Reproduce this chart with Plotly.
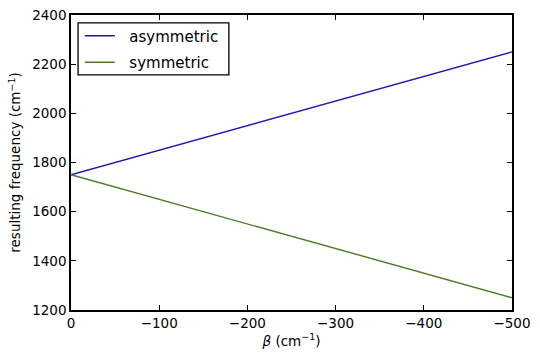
import plotly.graph_objects as go

beta = [0, -100, -200, -300, -400, -500]
asymmetric = [1750, 1850, 1950, 2050, 2150, 2250]
symmetric = [1750, 1650, 1550, 1450, 1350, 1250]
x_ticks = [0, -100, -200, -300, -400, -500]
x_ticklabels = ["0", "\u2212100", "\u2212200", "\u2212300", "\u2212400", "\u2212500"]
y_ticks = [1200, 1400, 1600, 1800, 2000, 2200, 2400]

fig = go.Figure()
fig.add_trace(go.Scatter(x=beta, y=asymmetric, mode="lines", name="\u00a0\u00a0asymmetric",
                         legendgroup="a",
                         line=dict(color="#1c1cb0", width=1.4)))
fig.add_trace(go.Scatter(x=beta, y=symmetric, mode="lines", name="\u00a0\u00a0symmetric",
                         legendgroup="b",
                         line=dict(color="#4a7a26", width=1.4)))

axis_common = dict(showline=True, linecolor="black", linewidth=1.5, mirror="ticks",
                   ticks="inside", ticklen=5, tickwidth=1, tickcolor="black",
                   showgrid=False, zeroline=False, automargin=False,
                   ticklabeloverflow="allow",
                   tickfont=dict(family="DejaVu Sans", size=13.5, color="black"))

fig.update_xaxes(range=[0, -500], tickvals=x_ticks, ticktext=x_ticklabels,
                 title=dict(text="<i>β</i> (cm<sup>−1</sup>)", standoff=4,
                            font=dict(family="DejaVu Sans", size=13.5, color="black")),
                 **axis_common)
fig.update_yaxes(range=[1200, 2400], tickvals=y_ticks,
                 title=dict(text="resulting frequency (cm<sup>−1</sup>)", standoff=8,
                            font=dict(family="DejaVu Sans", size=13.5, color="black")),
                 **axis_common)

# legend frame drawn as a paper-anchored box behind the legend entries
fig.add_shape(type="rect", xref="paper", yref="paper",
              x0=0.016, x1=0.358, y0=0.797, y1=0.973,
              line=dict(color="black", width=1.3), fillcolor="white", layer="above")

fig.update_layout(
    width=540, height=359,
    margin=dict(l=71, r=28, t=15, b=49),
    plot_bgcolor="white", paper_bgcolor="white",
    font=dict(family="DejaVu Sans", color="black"),
    legend=dict(x=0.02, y=0.985, xanchor="left", yanchor="top",
                borderwidth=0, bgcolor="rgba(0,0,0,0)",
                font=dict(family="DejaVu Sans", size=15, color="black"),
                tracegroupgap=4),
    showlegend=True,
)

fig.write_html("out.html", config={"displayModeBar": False},
               post_script="document.body.style.margin='0px';document.body.style.overflow='hidden';")
